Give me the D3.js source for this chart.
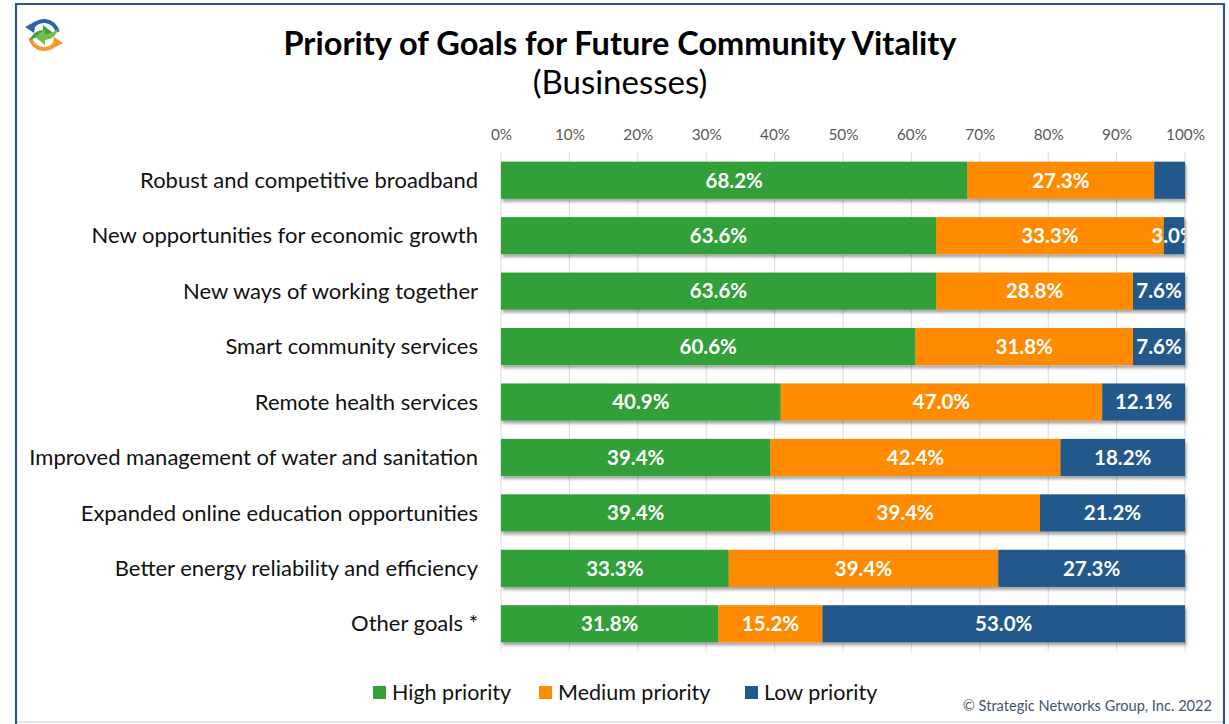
<!DOCTYPE html>
<html>
<head>
<meta charset="utf-8">
<script src="https://cdn.jsdelivr.net/npm/d3@7"></script>
<style>
  html, body { margin: 0; padding: 0; background: #fff; }
  svg { display: block; font-family: Lato, "Open Sans", sans-serif; }
</style>
</head>
<body>
<svg id="chart" width="1229" height="724"></svg>
<script>
// Goals and their share of businesses by priority level (percent)
const categories = [
  "Robust and competitive broadband",
  "New opportunities for economic growth",
  "New ways of working together",
  "Smart community services",
  "Remote health services",
  "Improved management of water and sanitation",
  "Expanded online education opportunities",
  "Better energy reliability and efficiency",
  "Other goals *"
];
const highPriority   = [68.2, 63.6, 63.6, 60.6, 40.9, 39.4, 39.4, 33.3, 31.8];
const mediumPriority = [27.3, 33.3, 28.8, 31.8, 47.0, 42.4, 39.4, 39.4, 15.2];
const lowPriority    = [4.5, 3.0, 7.6, 7.6, 12.1, 18.2, 21.2, 27.3, 53.0];
// segments whose value label is left off ([row, series])
const unlabeled = [[0, 2]];
const seriesNames = ["High priority", "Medium priority", "Low priority"];
const seriesColors = ["#33A039", "#FF8C00", "#22598C"];
const tickValues = [0, 10, 20, 30, 40, 50, 60, 70, 80, 90, 100];

const svg = d3.select("#chart");

// drop shadow used under the bars
const defs = svg.append("defs");
const f = defs.append("filter").attr("id", "barShadow")
  .attr("x", "-5%").attr("y", "-20%").attr("width", "110%").attr("height", "160%");
f.append("feDropShadow").attr("dx", 1.5).attr("dy", 3).attr("stdDeviation", 1.6)
  .attr("flood-color", "#000").attr("flood-opacity", 0.35);

// outer frame
svg.append("line").attr("x1", 16).attr("x2", 1224).attr("y1", 722).attr("y2", 722)
  .attr("stroke", "#E3E6EA").attr("stroke-width", 2);
svg.append("path")
  .attr("d", "M16,724 V4 H1224 V724")
  .attr("fill", "none").attr("stroke", "#2E5688").attr("stroke-width", 2.2);

// small circular-arrows emblem in the corner
const logo = svg.append("g").attr("transform", "translate(44,35)");
const arcGen = d3.arc();
// blue arc across the top, arrowhead pointing down-left
logo.append("path").attr("d", arcGen({innerRadius: 12, outerRadius: 16, startAngle: -1.15, endAngle: 1.35}))
  .attr("fill", "#2B66A8");
logo.append("path").attr("d", "M-19,-8 L-8,-14 L-10,-2 Z").attr("fill", "#2B66A8");
// orange arc across the bottom, arrowhead pointing up-right
logo.append("path").attr("d", arcGen({innerRadius: 12, outerRadius: 16, startAngle: 2.0, endAngle: 4.5}))
  .attr("fill", "#F39A2E");
logo.append("path").attr("d", "M19,8 L8,14 L10,2 Z").attr("fill", "#F39A2E");
// two green arrows in the middle
logo.append("path").attr("d", "M-14,6 Q-12,-4 -1,-5 L-1,-10 L9,-2 L-1,6 L-1,1 Q-8,1 -14,6 Z").attr("fill", "#3E9E45");
logo.append("path").attr("d", "M14,-6 Q12,4 1,5 L1,10 L-9,2 L1,-6 L1,-1 Q8,-1 14,-6 Z").attr("fill", "#74BF4A");

// titles
svg.append("text").attr("x", 620).attr("y", 55).attr("text-anchor", "middle")
  .attr("font-size", 32.5).attr("font-weight", 700).attr("fill", "#000")
  .text("Priority of Goals for Future Community Vitality");
svg.append("text").attr("x", 620).attr("y", 94).attr("text-anchor", "middle")
  .attr("font-size", 33).attr("fill", "#000")
  .text("(Businesses)");

// scales
const x = d3.scaleLinear().domain([0, 100]).range([501, 1185]);
const y = d3.scaleBand().domain(categories).range([152.5, 651.5]).paddingInner(0.33).paddingOuter(0.165);

// vertical gridlines
svg.append("g").selectAll("line").data(tickValues).join("line")
  .attr("x1", d => x(d)).attr("x2", d => x(d))
  .attr("y1", 152.5).attr("y2", 651.5)
  .attr("stroke", "#D9D9D9").attr("stroke-width", 1);

// top axis labels
const axis = svg.append("g").attr("transform", "translate(0,140)")
  .call(d3.axisTop(x).tickValues(tickValues).tickFormat(d => d + "%").tickSize(0).tickPadding(0));
axis.select(".domain").remove();
axis.selectAll("text").attr("font-family", "Lato, sans-serif").attr("font-size", 15.3).attr("fill", "#595959");

// category labels
svg.append("g").selectAll("text").data(categories).join("text")
  .attr("x", 478).attr("y", d => y(d) + y.bandwidth() / 2)
  .attr("dy", "0.35em").attr("text-anchor", "end")
  .attr("font-size", 22).attr("fill", "#111")
  .text(d => d);

// stacked segments
const rows = categories.map((c, i) => {
  const vals = [highPriority[i], mediumPriority[i], lowPriority[i]];
  let acc = 0;
  return vals.map((v, s) => {
    const seg = {cat: c, row: i, s, v, x0: acc, x1: acc + v};
    acc += v;
    return seg;
  });
});
const segs = rows.flat();

svg.append("clipPath").attr("id", "plotClip").append("rect")
  .attr("x", 501).attr("y", 140).attr("width", 684).attr("height", 520);

const bars = svg.append("g").attr("filter", "url(#barShadow)");
bars.selectAll("rect").data(segs).join("rect")
  .attr("x", d => x(d.x0)).attr("width", d => x(d.x1) - x(d.x0))
  .attr("y", d => y(d.cat)).attr("height", y.bandwidth())
  .attr("fill", d => seriesColors[d.s]);

const hidden = new Set(unlabeled.map(([r, s]) => r + ":" + s));
svg.append("g").attr("clip-path", "url(#plotClip)")
  .selectAll("text").data(segs.filter(d => !hidden.has(d.row + ":" + d.s))).join("text")
  .attr("x", d => x((d.x0 + d.x1) / 2)).attr("y", d => y(d.cat) + y.bandwidth() / 2)
  .attr("dy", "0.36em").attr("text-anchor", "middle")
  .attr("font-size", 20.5).attr("font-weight", 700).attr("fill", "#fff")
  .text(d => d.v.toFixed(1) + "%");

// legend
const legendX = [373, 539, 745];
const legend = svg.append("g").selectAll("g").data(seriesNames).join("g")
  .attr("transform", (d, i) => `translate(${legendX[i]},686)`);
legend.append("rect").attr("width", 13).attr("height", 13).attr("fill", (d, i) => seriesColors[i]);
legend.append("text").attr("x", 19).attr("y", 6.5).attr("dy", "0.36em")
  .attr("font-size", 21.5).attr("fill", "#111").text(d => d);

// source note
svg.append("text").attr("x", 1212).attr("y", 711).attr("text-anchor", "end")
  .attr("font-size", 14.6).attr("fill", "#44546A")
  .text("© Strategic Networks Group, Inc. 2022");
</script>
</body>
</html>
